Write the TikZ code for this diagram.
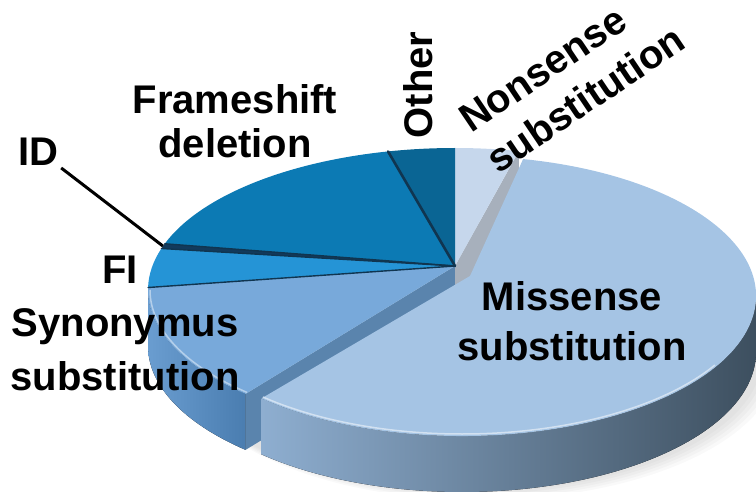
\documentclass[tikz,border=0pt]{standalone}
\usepackage{fontspec}
\setmainfont{Liberation Sans}
\usetikzlibrary{calc}
\definecolor{nonsense}{HTML}{C6D7EC}
\definecolor{other}{HTML}{0A6594}
\definecolor{frameshift}{HTML}{0C7AB4}
\definecolor{idslice}{HTML}{123A5C}
\definecolor{fislice}{HTML}{2594D6}
\definecolor{synonymus}{HTML}{78A9DA}
\definecolor{missense}{HTML}{A5C4E4}
\definecolor{edgeblue}{HTML}{103550}
\definecolor{synwallL}{HTML}{6A9DD0}
\definecolor{synwallR}{HTML}{4A7DB0}
\definecolor{syncut}{HTML}{5A84AD}
\definecolor{cutgray}{HTML}{A7B0BC}
\definecolor{misswallL}{HTML}{8EAED0}
\definecolor{misswallM}{HTML}{6A89A6}
\definecolor{misswallR}{HTML}{3D4F5F}
\begin{document}
\begin{tikzpicture}[x=1pt,y=1pt,
  slice label/.style={font=\bfseries\fontsize{40}{#1}\selectfont,align=center,inner sep=0pt},
  slice edge/.style={draw=edgeblue,line width=1.4pt,line cap=round}]
\useasboundingbox (0,0) rectangle (756,491);
% centres of the pie and of the pulled out slice
\coordinate (E) at (455,201);
\coordinate (A) at (455,225);
\coordinate (M) at (462,195);
\coordinate (AM) at (470,215);

% soft shadow under the pie
\foreach \s in {1,...,5}
  \fill[black,opacity=.025] ($(M)+(8+2*\s,-60-\s)$) ellipse[x radius=288pt+2*\s,y radius=134pt+\s];

% walls of the main pie
\fill[left color=synwallL, right color=synwallR]
  ($(E)+(180:307pt and 142pt)$) arc[start angle=180,end angle=227,x radius=307pt,y radius=142pt]
  -- ++(0,-56) arc[start angle=227,end angle=180,x radius=307pt,y radius=142pt] -- cycle;
\fill[syncut] (A) -- ($(E)+(227:307pt and 142pt)$) -- ++(0,-56) -- ($(A)+(0,-56)$) -- cycle;
\fill[cutgray] (A) -- ($(E)+(78:307pt and 142pt)$) -- ++(0,-56) -- ($(A)+(0,-56)$) -- cycle;

% top of the main pie
\foreach \from/\to/\col in {78/90/nonsense, 90/102.6/other, 102.6/161/frameshift,
    161/163/idslice, 163/179/fislice, 179/227/synonymus}
  \fill[\col] (A) -- ($(E)+(\from:307pt and 142pt)$)
    arc[start angle=\from,end angle=\to,x radius=307pt,y radius=142pt] -- cycle;
\foreach \t in {161,163,179}
  \draw[slice edge] (A) -- ($(E)+(\t:307pt and 142pt)$);
\draw[slice edge,line width=2.6pt] (A) -- ($(E)+(102.6:307pt and 142pt)$);
\draw[white,opacity=.45,line width=1.5pt]
  ($(E)+(180:305pt and 140pt)$) arc[start angle=180,end angle=227,x radius=305pt,y radius=140pt];

% pulled out slice
\fill[left color=misswallL, middle color=misswallM, right color=misswallR]
  ($(M)+(227:294pt and 140pt)$) arc[start angle=227,end angle=360,x radius=294pt,y radius=140pt]
  -- ++(0,-56) arc[start angle=360,end angle=227,x radius=294pt,y radius=140pt] -- cycle;
\fill[missense] (AM) -- ($(M)+(78:294pt and 140pt)$)
  arc[start angle=78,end angle=-133,x radius=294pt,y radius=140pt] -- cycle;
\draw[white,opacity=.5,line width=1.5pt]
  ($(M)+(227:292pt and 138pt)$) arc[start angle=227,end angle=330,x radius=292pt,y radius=138pt];

% labels
\node[slice label=44] (frameshift) at (235,370) {Frameshift\\deletion};
\node[slice label=50] (missense) at (572,170) {Missense\\substitution};
\node[slice label=54] (synonymus) at (125,141) {Synonymus\\substitution};
\node[slice label=48] (fi) at (120,221) {FI};
\node[slice label=48] (id) at (38,339) {ID};
\node[slice label=48,rotate=90] (other) at (418,406) {Other};
\node[slice label=49,rotate=34,align=left] (nonsense) at (572,412) {Nonsense\\substitution};

\coordinate (idtip) at ($(E)+(162:307pt and 142pt)$);
\draw[line width=3pt] ([shift={(3,-2)}]id.south east) -- (idtip);
\end{tikzpicture}
\end{document}
